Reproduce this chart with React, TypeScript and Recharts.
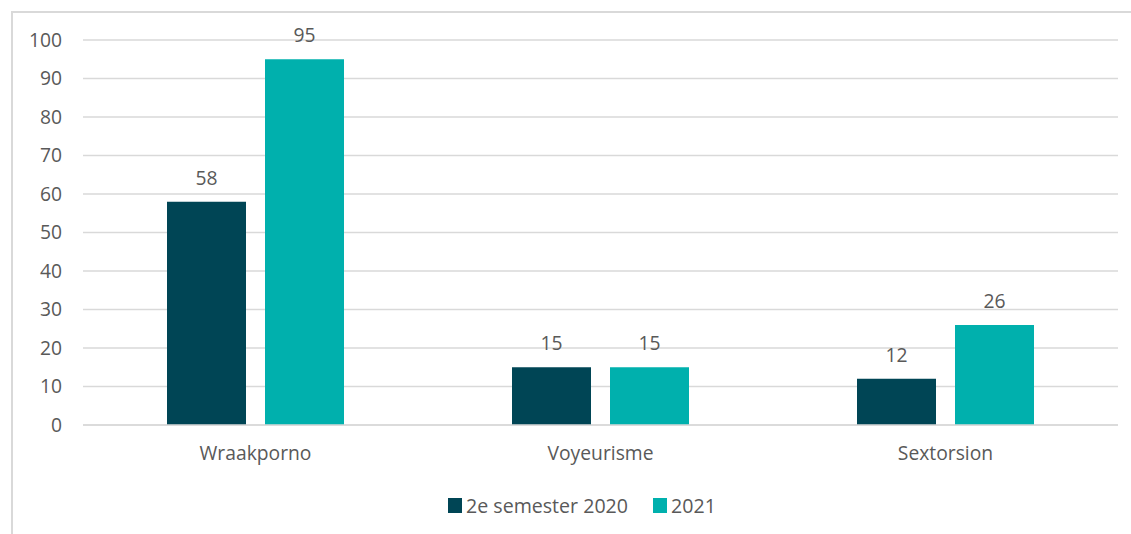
import React from "react";
import { BarChart, Bar, XAxis, YAxis, CartesianGrid, Legend, LabelList } from "recharts";

const categories = ["Wraakporno", "Voyeurisme", "Sextorsion"];
const series2020 = [58, 15, 12];
const series2021 = [95, 15, 26];
const yTicks = [0, 10, 20, 30, 40, 50, 60, 70, 80, 90, 100];
const seriesNames = ["2e semester 2020", "2021"];
const colors = ["#004555", "#00B0AD"];

const data = categories.map((c, i) => ({ name: c, a: series2020[i], b: series2021[i] }));

const FONT = "'Open Sans', sans-serif";
const TEXT = "#595959";

const renderLegend = (props: any) => {
  const payload = [...(props.payload || [])].sort(
    (x: any, y: any) => seriesNames.indexOf(x.value) - seriesNames.indexOf(y.value)
  );
  return (
    <div style={{ display: "flex", alignItems: "center", fontFamily: FONT, fontSize: 19.6, color: TEXT, whiteSpace: "nowrap" }}>
      {payload.map((p: any, i: number) => (
        <div key={i} style={{ display: "flex", alignItems: "center", marginRight: i === 0 ? 25 : 0 }}>
          <span style={{ display: "inline-block", width: 14, height: 15, background: p.color, marginRight: 4 }} />
          <span>{p.value}</span>
        </div>
      ))}
    </div>
  );
};

export default function App() {
  return (
    <div style={{ position: "absolute", left: 0, top: 0, width: 1131, height: 534, overflow: "hidden", background: "#fff" }}>
      <div style={{ position: "absolute", left: 11, top: 11, width: 1120, height: 523, borderTop: "2px solid #d9d9d9", borderLeft: "2px solid #d9d9d9", boxSizing: "border-box" }} />
      <div style={{ position: "absolute", left: 0, top: 0 }}>
        <BarChart width={1131} height={534} data={data} margin={{ top: 40, right: 13, left: 0, bottom: 79 }} barSize={79} barGap={19}>
          <CartesianGrid vertical={false} stroke="#d9d9d9" strokeWidth={1.5} />
          <XAxis dataKey="name" height={30} tickLine={false} tickSize={0} tickMargin={21} axisLine={{ stroke: "#d9d9d9", strokeWidth: 1.5 }} tick={{ fill: TEXT, fontSize: 19.3, fontFamily: FONT }} />
          <YAxis width={83} domain={[0, 100]} ticks={yTicks} interval={0} tickLine={false} tickSize={0} tickMargin={21} axisLine={false} tick={{ fill: TEXT, fontSize: 19.3, fontFamily: FONT }} />
          <Legend verticalAlign="middle" align="center" layout="horizontal" content={renderLegend} wrapperStyle={{ left: 448, top: 492, width: "auto" }} />
          <Bar dataKey="a" name={seriesNames[0]} fill={colors[0]} isAnimationActive={false}>
            <LabelList dataKey="a" position="top" offset={17} fill={TEXT} fontSize={19.3} fontFamily={FONT} />
          </Bar>
          <Bar dataKey="b" name={seriesNames[1]} fill={colors[1]} isAnimationActive={false}>
            <LabelList dataKey="b" position="top" offset={17} fill={TEXT} fontSize={19.3} fontFamily={FONT} />
          </Bar>
        </BarChart>
      </div>
    </div>
  );
}
